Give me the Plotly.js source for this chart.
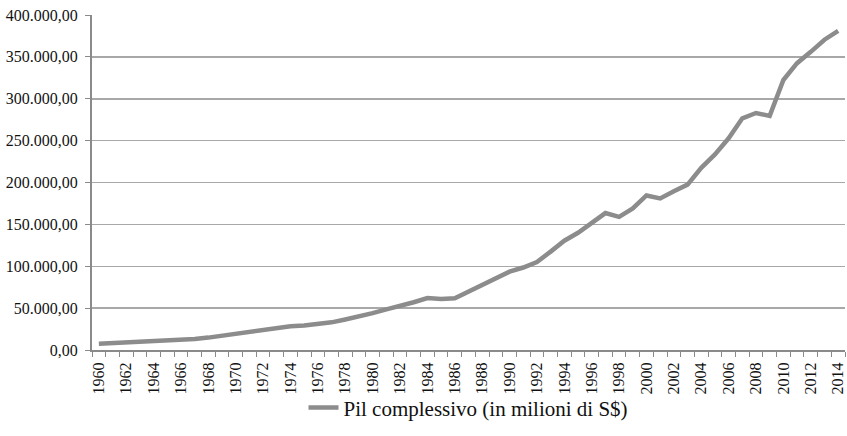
<!DOCTYPE html>
<html>
<head>
<meta charset="utf-8">
<script src="https://cdn.plot.ly/plotly-3.0.1.min.js"></script>
<style>
  html, body { margin: 0; padding: 0; background: #ffffff; }
  #chart { width: 847px; height: 436px; }
</style>
</head>
<body>
<div id="chart"></div>
<script>
// Anni della serie
const years = [
  1960, 1961, 1962, 1963, 1964, 1965, 1966, 1967, 1968, 1969,
  1970, 1971, 1972, 1973, 1974, 1975, 1976, 1977, 1978, 1979,
  1980, 1981, 1982, 1983, 1984, 1985, 1986, 1987, 1988, 1989,
  1990, 1991, 1992, 1993, 1994, 1995, 1996, 1997, 1998, 1999,
  2000, 2001, 2002, 2003, 2004, 2005, 2006, 2007, 2008, 2009,
  2010, 2011, 2012, 2013, 2014
];

// Pil complessivo, milioni di S$
const pil = [
  7500, 8200, 9000, 10000, 9600, 10400, 11600, 13000, 14800, 17000,
  19300, 21300, 24500, 27000, 28300, 29300, 30800, 33000, 36500, 39800,
  44000, 48500, 52500, 57000, 62000, 61000, 61800, 69800, 77600, 85000,
  93500, 98500, 105000, 117500, 130500, 140000, 151000, 163500, 159000, 169000,
  184500, 181000, 189500, 197500, 217500, 233500, 252800, 276600, 283000, 279500,
  322400, 342500, 356000, 370500, 381000
];

// Etichette dell'asse orizzontale (un anno su due)
const labelYears = years.filter(y => y % 2 === 0);
const labelText = labelYears.map(String);

const seriesName = 'Pil complessivo (in milioni di S$)';

const axisGray = '#8a8a8a';
const gridGray = '#a8a8a8';
const tickFont = { family: 'Liberation Serif', size: 16, color: '#111111' };
const legendFont = { family: 'Liberation Serif', size: 21, color: '#111111' };

const trace = {
  type: 'scatter',
  mode: 'lines',
  x: years,
  y: pil,
  name: seriesName,
  line: { color: '#8c8c8c', width: 4.5 },
  showlegend: true
};

const layout = {
  width: 847,
  height: 436,
  margin: { l: 92, r: 2, t: 15, b: 86 },
  paper_bgcolor: '#ffffff',
  plot_bgcolor: '#ffffff',
  separators: ',.',
  font: tickFont,
  showlegend: true,
  legend: {
    orientation: 'h',
    x: 0.5, xanchor: 'center',
    y: -0.173, yanchor: 'middle',
    font: legendFont,
    bgcolor: 'rgba(0,0,0,0)'
  },
  xaxis: {
    type: 'linear',
    range: [1959.5, 2014.5],
    tickmode: 'array',
    tickvals: labelYears,
    ticktext: labelText,
    tickangle: -90,
    tickfont: tickFont,
    ticks: '',
    ticklabelstandoff: 4,
    showgrid: false,
    zeroline: false,
    showline: true,
    linecolor: axisGray,
    linewidth: 2,
    minor: {
      tick0: 1959.5,
      dtick: 1,
      ticks: 'outside',
      ticklen: 5,
      tickwidth: 1,
      tickcolor: axisGray,
      showgrid: false
    },
    fixedrange: true
  },
  yaxis: {
    range: [0, 400000],
    tickmode: 'linear',
    tick0: 0,
    dtick: 50000,
    tickformat: ',.2f',
    tickfont: tickFont,
    ticks: 'outside',
    ticklen: 5,
    tickwidth: 1,
    tickcolor: axisGray,
    ticklabelstandoff: 4,
    showgrid: true,
    gridcolor: gridGray,
    gridwidth: 1.5,
    zeroline: false,
    showline: true,
    linecolor: axisGray,
    linewidth: 2,
    fixedrange: true
  }
};

Plotly.newPlot('chart', [trace], layout, { displayModeBar: false, staticPlot: true });
</script>
</body>
</html>
